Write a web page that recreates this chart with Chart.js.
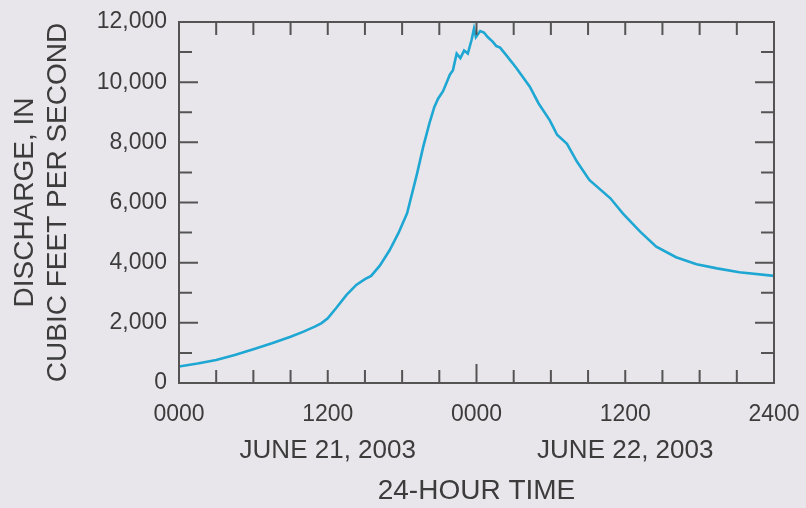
<!DOCTYPE html>
<html>
<head>
<meta charset="utf-8">
<title>Discharge, June 21-22, 2003</title>
<script src="https://cdn.jsdelivr.net/npm/chart.js@4.4.1/dist/chart.umd.min.js"></script>
<style>
  html, body { margin: 0; padding: 0; background: #e8e6ea; overflow: hidden; }
  #wrap { width: 806px; height: 508px; position: relative; }
  canvas { display: block; }
</style>
</head>
<body>
<div id="wrap"><canvas id="chartCanvas"></canvas></div>
<script>
// hours since 0000 June 21, 2003
const hours = [0, 1.5, 3, 4.5, 6, 7.5, 9, 10, 11, 11.5, 12, 12.7, 13.5, 14.3, 15, 15.5, 16.2, 17, 17.7, 18.4,
  19.2, 19.7, 20.2, 20.6, 20.9, 21.3, 21.6, 21.85, 22.1, 22.4, 22.7, 23.0, 23.3, 23.6, 23.8, 23.95, 24.3, 24.6,
  24.9, 25.3, 25.6, 25.9, 26.3, 27.2, 28.3, 29.0, 29.9, 30.2, 30.5, 31.3, 32.1, 33.1, 34.8, 35.8, 37.2, 38.5,
  40.1, 41.75, 43.4, 45.2, 48];
// discharge, cubic feet per second
const discharge = [550, 650, 765, 930, 1120, 1320, 1540, 1700, 1880, 1990, 2150, 2500, 2920, 3260, 3450, 3560, 3900, 4420, 4980, 5640,
  6950, 7850, 8630, 9180, 9450, 9700, 10000, 10250, 10400, 10950, 10800, 11050, 10950, 11400, 11780, 11500, 11700, 11650,
  11500, 11350, 11200, 11150, 10950, 10480, 9850, 9300, 8740, 8500, 8250, 7950, 7360, 6750, 6140, 5640, 5030, 4530,
  4180, 3950, 3810, 3680, 3560];

const timeTickValues = [0, 12, 24, 36, 48];
const timeTickLabels = ['0000', '1200', '0000', '1200', '2400'];
const dateTickValues = [12, 36];
const dateTickLabels = ['JUNE 21, 2003', 'JUNE 22, 2003'];
const yLabelValues = [0, 2000, 4000, 6000, 8000, 10000, 12000];

const textColor = '#3c3c3c';
const fontFamily = '"Liberation Sans", Arial, Helvetica, sans-serif';

// frame and inward tick marks
const frameTicks = {
    id: 'frameTicks',
    afterDatasetsDraw(chart) {
        const { ctx, chartArea: { left, right, top, bottom }, scales: { x, y } } = chart;
        ctx.save();
        ctx.strokeStyle = '#545454';
        ctx.lineWidth = 2;
        ctx.beginPath();
        x.ticks.forEach(t => {
            const px = x.getPixelForValue(t.value);
            const len = t.value === 24 ? 19 : 13;
            ctx.moveTo(px, bottom); ctx.lineTo(px, bottom - len);
            ctx.moveTo(px, top); ctx.lineTo(px, top + 13);
        });
        y.ticks.forEach(t => {
            const py = y.getPixelForValue(t.value);
            const len = yLabelValues.includes(t.value) ? 19 : 13;
            ctx.moveTo(left, py); ctx.lineTo(left + len, py);
            ctx.moveTo(right, py); ctx.lineTo(right - len, py);
        });
        ctx.stroke();
        ctx.strokeRect(left, top, right - left, bottom - top);
        ctx.restore();
    }
};

const points = hours.map((h, i) => ({ x: h, y: discharge[i] }));

const fitX = h => s => { s.height = h; s.paddingLeft = 0; s.paddingRight = 0; };

window.myChart = new Chart(document.getElementById('chartCanvas').getContext('2d'), {
    type: 'line',
    data: {
        datasets: [{
            data: points,
            borderColor: '#1fa7d3',
            borderWidth: 2.6,
            pointRadius: 0,
            tension: 0,
            fill: false
        }]
    },
    options: {
        responsive: true,
        maintainAspectRatio: false,
        animation: false,
        layout: { padding: { top: 22, right: 32, left: 0, bottom: 0 } },
        plugins: { legend: { display: false }, tooltip: { enabled: false } },
        scales: {
            x: {
                type: 'linear', position: 'bottom', min: 0, max: 48,
                afterBuildTicks: s => { s.ticks = []; for (let v = 0; v <= 48; v += 3) s.ticks.push({ value: v }); },
                afterFit: fitX(44),
                grid: { display: false, drawTicks: false },
                border: { display: false },
                ticks: {
                    autoSkip: false, maxRotation: 0, padding: 18, color: textColor,
                    font: { family: fontFamily, size: 23 },
                    callback: v => { const i = timeTickValues.indexOf(v); return i >= 0 ? timeTickLabels[i] : ''; }
                }
            },
            x2: {
                type: 'linear', position: 'bottom', min: 0, max: 48,
                afterBuildTicks: s => { s.ticks = dateTickValues.map(v => ({ value: v })); },
                afterFit: fitX(81),
                grid: { display: false, drawTicks: false },
                border: { display: false },
                ticks: {
                    autoSkip: false, maxRotation: 0, padding: 8, color: textColor,
                    font: { family: fontFamily, size: 26 },
                    callback: v => dateTickLabels[dateTickValues.indexOf(v)]
                },
                title: {
                    display: true, text: '24-HOUR TIME', color: textColor,
                    font: { family: fontFamily, size: 28 }, padding: { top: 12, bottom: 0 }
                }
            },
            y: {
                min: 0, max: 12000,
                afterBuildTicks: s => { s.ticks = []; for (let v = 0; v <= 12000; v += 1000) s.ticks.push({ value: v }); },
                afterFit: s => { s.width = 179; s.paddingTop = 0; s.paddingBottom = 0; },
                grid: { display: false, drawTicks: false },
                border: { display: false },
                ticks: {
                    autoSkip: false, padding: 12, color: textColor,
                    font: { family: fontFamily, size: 23 },
                    callback: v => yLabelValues.includes(v) ? v.toLocaleString('en-US') : ''
                },
                title: {
                    display: true, text: ['DISCHARGE, IN', 'CUBIC FEET PER SECOND'], color: textColor,
                    font: { family: fontFamily, size: 28 }, padding: { top: 8, bottom: 0 }
                }
            }
        }
    },
    plugins: [frameTicks]
});
</script>
</body>
</html>
